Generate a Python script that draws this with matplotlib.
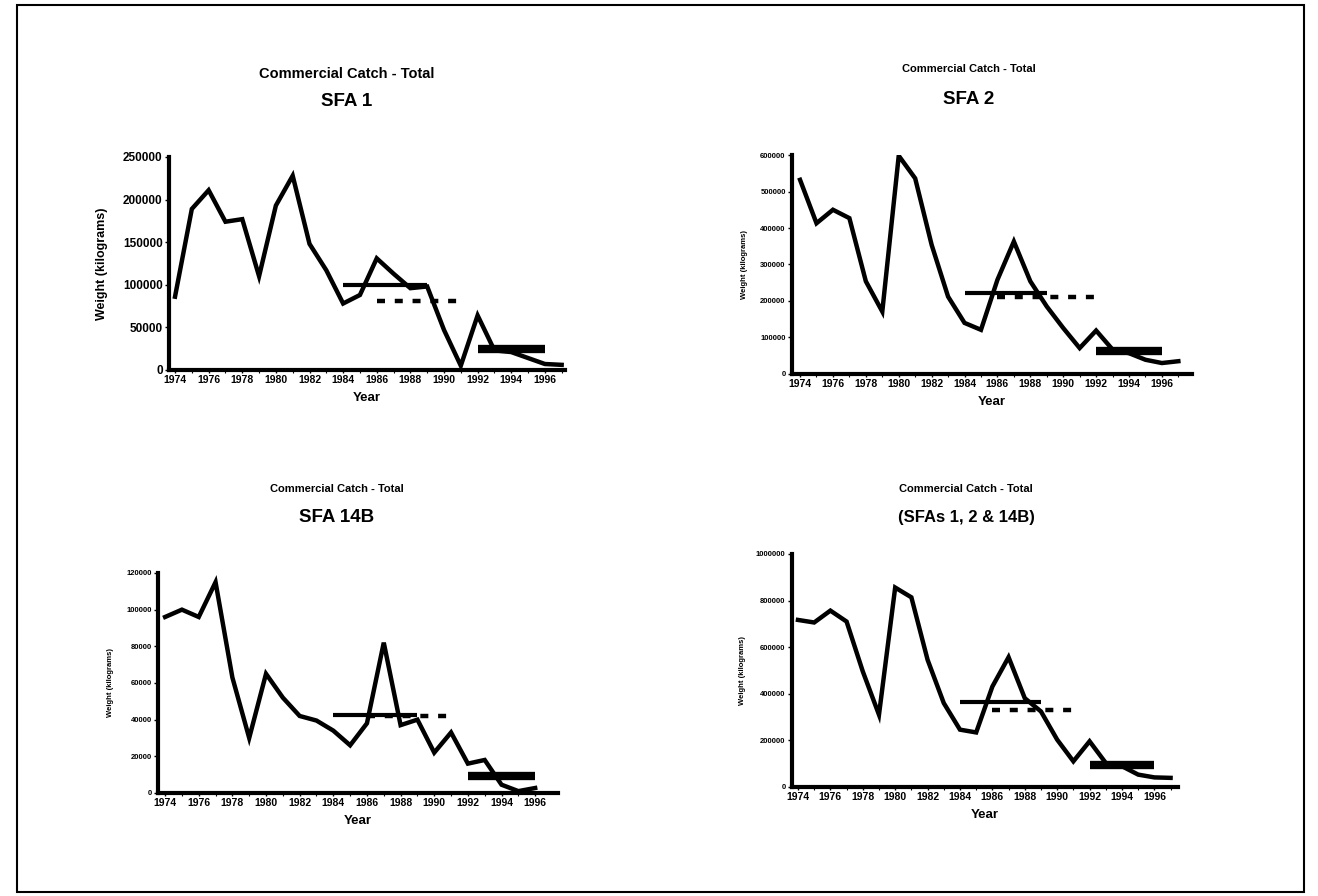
import matplotlib.pyplot as plt
from matplotlib.patches import Rectangle

plt.rcParams['font.family'] = ['Liberation Sans', 'DejaVu Sans']
plt.rcParams['font.weight'] = 'bold'

years = list(range(1974, 1998))
years_14b = list(range(1974, 1997))

# catch in kilograms
sfa1 = [86000, 189000, 211000, 174000, 177000, 110000, 193000, 228000, 148000, 117000,
        78000, 88000, 131000, 113000, 96000, 98000, 47000, 5000, 64000, 23000,
        21000, 14000, 7000, 6000]
sfa2 = [532000, 413000, 450000, 427000, 254000, 171000, 598000, 536000, 354000, 212000,
        140000, 121000, 258000, 363000, 254000, 185000, 126000, 71000, 119000, 67000,
        57000, 39000, 30000, 35000]
sfa14b = [96000, 100000, 96000, 115000, 63000, 30000, 65000, 52000, 42000, 39500,
          34000, 26000, 38000, 82000, 37000, 40000, 22000, 33000, 16000, 18000,
          4500, 1000, 2700]
sfa_all = [717000, 706000, 757000, 710000, 496000, 310000, 856000, 814000, 546000, 360000,
           246000, 234000, 431000, 557000, 381000, 324000, 203000, 110000, 196000, 103000,
           89000, 53000, 41000, 39000]

# reference period means: (start, end, level)
mean_8489 = [(1984, 1989, 100000), (1984, 1989, 222000), (1984, 1989, 42700), (1984, 1989, 363000)]
mean_8691 = [(1986, 1991, 81000), (1986, 1992, 212000), (1986, 1991, 42000), (1986, 1991, 329000)]
mean_9296 = [(1992, 1996, 25000), (1992, 1996, 62000), (1992, 1996, 9500), (1992, 1996, 93000)]

yticks_1 = [0, 50000, 100000, 150000, 200000, 250000]
yticks_2 = [0, 100000, 200000, 300000, 400000, 500000, 600000]
yticks_14b = [0, 20000, 40000, 60000, 80000, 100000, 120000]
yticks_all = [0, 200000, 400000, 600000, 800000, 1000000]
xtick_years = list(range(1974, 1997, 2))

fig = plt.figure(figsize=(13.18, 8.96), dpi=100)
fig.patches.append(Rectangle((17 / 1318, 1 - 892 / 896), 1287 / 1318, 887 / 896,
                             transform=fig.transFigure, fill=False, lw=1.5, ec='black'))

panels = [
    # rect, xlim, years, data, yticks, ytick size, ylabel size, ylabel pad, title sizes, titles, title x, title y
    ([0.1282, 0.5871, 0.3005, 0.2377], (1973.64, 1997.2), years, sfa1, yticks_1, 8.5, 9, 11,
     (10.5, 13.5), ('Commercial Catch - Total', 'SFA 1'), 347, (74, 102)),
    ([0.6009, 0.5826, 0.3035, 0.2444], (1973.51, 1997.83), years, sfa2, yticks_2, 5.5, 5.5, 9,
     (8, 13.5), ('Commercial Catch - Total', 'SFA 2'), 969, (69, 99)),
    ([0.1199, 0.1150, 0.3035, 0.2455], (1973.58, 1997.36), years_14b, sfa14b, yticks_14b, 5.5, 5.5, 9,
     (8, 13.5), ('Commercial Catch - Total', 'SFA 14B'), 337, (489, 518)),
    ([0.6009, 0.1217, 0.2929, 0.2600], (1973.63, 1997.46), years, sfa_all, yticks_all, 5.5, 5.5, 7,
     (8, 12), ('Commercial Catch - Total', '(SFAs 1, 2 & 14B)'), 966, (489, 517)),
]

for i, (rect, xlim, yrs, vals, yt, yts, yls, ylp, tsz, titles, tx, ty) in enumerate(panels):
    ax = fig.add_axes(rect)
    ax.plot(yrs, vals, color='black', lw=3.2, solid_joinstyle='miter', zorder=3)

    s, e, v = mean_8489[i]
    ax.plot([s, e], [v, v], color='black', lw=3.0, solid_capstyle='butt', zorder=4)
    s, e, v = mean_8691[i]
    ax.plot([s, e], [v, v], color='black', lw=3.2, linestyle=(0, (1.8, 2.2)),
            dash_capstyle='butt', zorder=4)
    s, e, v = mean_9296[i]
    ax.plot([s, e], [v, v], color='black', lw=6.0, solid_capstyle='butt', zorder=4)

    ax.set_xlim(*xlim)
    ax.set_ylim(0, yt[-1])
    ax.set_yticks(yt)
    ax.set_yticklabels([str(t) for t in yt], fontsize=yts, fontweight='bold')
    ax.set_xticks(xtick_years)
    ax.set_xticklabels([str(y) for y in xtick_years], fontsize=7.5, fontweight='bold')
    ax.set_xticks(yrs, minor=True)
    ax.tick_params(axis='both', which='major', length=3, width=1, pad=1.5)
    ax.tick_params(axis='x', which='minor', length=2, width=0.8)
    ax.tick_params(axis='x', which='major', length=2)
    for side in ('top', 'right'):
        ax.spines[side].set_visible(False)
    ax.spines['left'].set_linewidth(3.0)
    ax.spines['bottom'].set_linewidth(3.0)
    ax.set_xlabel('Year', fontsize=9.5, fontweight='bold', labelpad=5)
    ax.set_ylabel('Weight (kilograms)', fontsize=yls, fontweight='bold', labelpad=ylp)

    fig.text(tx / 1318, 1 - ty[0] / 896, titles[0], ha='center', va='center',
             fontsize=tsz[0], fontweight='bold')
    fig.text(tx / 1318, 1 - ty[1] / 896, titles[1], ha='center', va='center',
             fontsize=tsz[1], fontweight='bold')

fig.savefig('out.png', dpi=100)
